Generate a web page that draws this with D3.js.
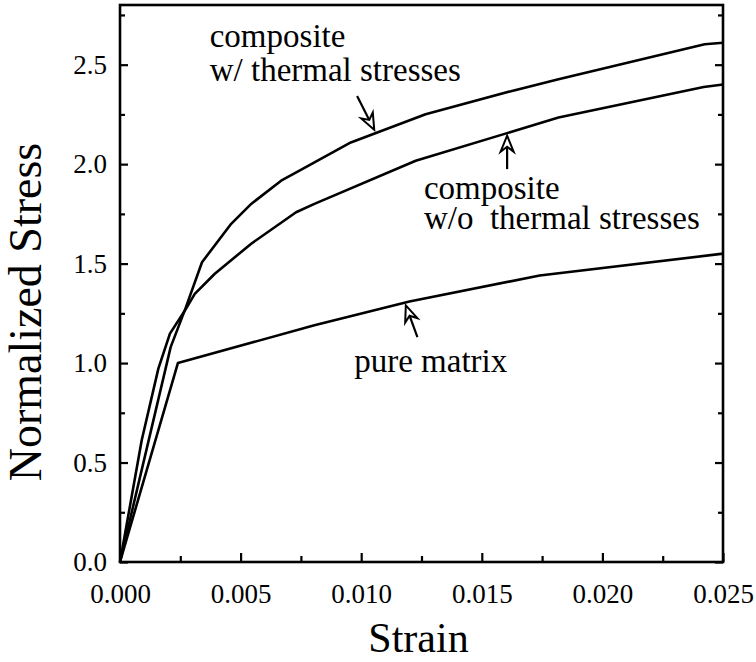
<!DOCTYPE html>
<html>
<head>
<meta charset="utf-8">
<script src="https://cdn.jsdelivr.net/npm/d3@7"></script>
<style>
  html, body { margin: 0; padding: 0; background: #fff; }
  svg { display: block; }
  text { font-family: "Liberation Serif", "DejaVu Serif", serif; fill: #000; }
</style>
</head>
<body>
<svg id="chart" width="756" height="662"></svg>
<script>
// ---- data ----
const matrixStrain = [0, 0.0024, 0.00806, 0.0120, 0.0174, 0.0250];
const matrixStress = [0, 1.00, 1.19, 1.31, 1.44, 1.55];

const thermalStrain = [0, 0.0021, 0.0027, 0.0034, 0.00461, 0.00544, 0.00668, 0.00744, 0.00957, 0.01267, 0.01625, 0.01818, 0.02424, 0.0250];
const thermalStress = [0, 1.08, 1.27, 1.507, 1.70, 1.80, 1.917, 1.967, 2.109, 2.251, 2.368, 2.427, 2.603, 2.61];

const noThermalStrain = [0, 0.0009, 0.00159, 0.00207, 0.00269, 0.0031, 0.00393, 0.00544, 0.0073, 0.00806, 0.01226, 0.01818, 0.0242, 0.0250];
const noThermalStress = [0, 0.612, 0.972, 1.148, 1.264, 1.348, 1.449, 1.60, 1.758, 1.80, 2.017, 2.234, 2.388, 2.40];

const xTicks = [0, 0.005, 0.010, 0.015, 0.020, 0.025];
const xMinorTicks = [0.0025, 0.0075, 0.0125, 0.0175, 0.0225];
const yTicks = [0, 0.5, 1.0, 1.5, 2.0, 2.5];
const yMinorTicks = [0.25, 0.75, 1.25, 1.75, 2.25, 2.75];

const xLabel = "Strain";
const yLabel = "Normalized Stress";

// annotations: [strain, stress] anchors
const annoThermalLines = ["composite", "w/ thermal stresses"];
const annoThermalPos = [[0.00372, 2.59], [0.00372, 2.418]];
const annoNoThermalLines = ["composite", "w/o  thermal stresses"];
const annoNoThermalPos = [[0.0126, 1.826], [0.0126, 1.674]];
const annoMatrixLines = ["pure matrix"];
const annoMatrixPos = [[0.00971, 0.955]];
// arrows: [tail, tip] in data coords
const arrowThermal = [[0.00983, 2.343], [0.01054, 2.173]];
const arrowNoThermal = [[0.01605, 1.975], [0.01605, 2.143]];
const arrowMatrix = [[0.01233, 1.13], [0.01185, 1.29]];

// ---- layout ----
const FONT = "'Liberation Serif', 'DejaVu Serif', serif";
const svg = d3.select("#chart");
const mLeft = 120, mRight = 723, mTop = 5, mBottom = 562;

const x = d3.scaleLinear().domain([0, 0.025]).range([mLeft, mRight]);
const y = d3.scaleLinear().domain([0, 2.8]).range([mBottom, mTop]);

const tickFont = 27;

// axes
const gL = svg.append("g").attr("transform", `translate(${mLeft},0)`)
  .call(d3.axisLeft(y).tickValues(yTicks).tickSize(-8).tickPadding(13).tickFormat(d3.format(".1f")));
const gLm = svg.append("g").attr("transform", `translate(${mLeft},0)`)
  .call(d3.axisLeft(y).tickValues(yMinorTicks).tickSize(-5).tickFormat(""));
const gR = svg.append("g").attr("transform", `translate(${mRight},0)`)
  .call(d3.axisRight(y).tickValues(yTicks).tickSize(-8).tickFormat(""));
const gRm = svg.append("g").attr("transform", `translate(${mRight},0)`)
  .call(d3.axisRight(y).tickValues(yMinorTicks).tickSize(-5).tickFormat(""));
const gB = svg.append("g").attr("transform", `translate(0,${mBottom})`)
  .call(d3.axisBottom(x).tickValues(xTicks).tickSize(-9).tickPadding(22).tickFormat(d3.format(".3f")));
const gBm = svg.append("g").attr("transform", `translate(0,${mBottom})`)
  .call(d3.axisBottom(x).tickValues(xMinorTicks).tickSize(-6).tickFormat(""));

[gL, gLm, gR, gRm, gB, gBm].forEach(g => {
  g.attr("font-family", FONT);
  g.select(".domain").remove();
  g.selectAll(".tick line").attr("stroke", "#000").attr("stroke-width", 2.2);
  g.selectAll(".tick text").attr("font-size", tickFont)
    .attr("font-family", FONT).attr("fill", "#000");
});

// frame
svg.append("rect")
  .attr("x", mLeft).attr("y", mTop)
  .attr("width", mRight - mLeft).attr("height", mBottom - mTop)
  .attr("fill", "none").attr("stroke", "#000").attr("stroke-width", 2.6);

// axis titles
svg.append("text")
  .attr("x", (mLeft + mRight) / 2 - 3).attr("y", 652)
  .attr("text-anchor", "middle").attr("font-size", 42)
  .attr("font-family", FONT)
  .text(xLabel);
svg.append("text")
  .attr("transform", `translate(41,${312}) rotate(-90)`)
  .attr("text-anchor", "middle").attr("font-size", 46)
  .attr("font-family", FONT)
  .text(yLabel);

// curves
const line = d3.line().x(d => x(d[0])).y(d => y(d[1]));
const series = [
  [matrixStrain, matrixStress],
  [thermalStrain, thermalStress],
  [noThermalStrain, noThermalStress]
];
svg.append("g").selectAll("path")
  .data(series.map(([s, t]) => s.map((v, i) => [v, t[i]])))
  .join("path")
  .attr("d", line)
  .attr("fill", "none").attr("stroke", "#000")
  .attr("stroke-width", 2.6).attr("stroke-linejoin", "round");

// annotation text
function annoText(lines, pos) {
  lines.forEach((t, i) => {
    svg.append("text")
      .attr("x", x(pos[i][0])).attr("y", y(pos[i][1]))
      .attr("font-size", 33)
      .attr("font-family", FONT)
      .attr("xml:space", "preserve")
      .text(t);
  });
}
annoText(annoThermalLines, annoThermalPos);
annoText(annoNoThermalLines, annoNoThermalPos);
annoText(annoMatrixLines, annoMatrixPos);

// open arrows
function arrow(a) {
  const x0 = x(a[0][0]), y0 = y(a[0][1]);
  const x1 = x(a[1][0]), y1 = y(a[1][1]);
  const ang = Math.atan2(y1 - y0, x1 - x0);
  const L = 16, W = 6.5, notch = 5;
  const ux = Math.cos(ang), uy = Math.sin(ang);
  const px = -uy, py = ux;
  const bx = x1 - ux * L, by = y1 - uy * L;
  const nx = x1 - ux * (L - notch), ny = y1 - uy * (L - notch);
  svg.append("line")
    .attr("x1", x0).attr("y1", y0).attr("x2", nx).attr("y2", ny)
    .attr("stroke", "#000").attr("stroke-width", 2.2);
  svg.append("path")
    .attr("d", `M${x1},${y1} L${bx + px * W},${by + py * W} L${nx},${ny} L${bx - px * W},${by - py * W} Z`)
    .attr("fill", "#fff").attr("stroke", "#000").attr("stroke-width", 2)
    .attr("stroke-linejoin", "miter");
}
arrow(arrowThermal);
arrow(arrowNoThermal);
arrow(arrowMatrix);
</script>
</body>
</html>
